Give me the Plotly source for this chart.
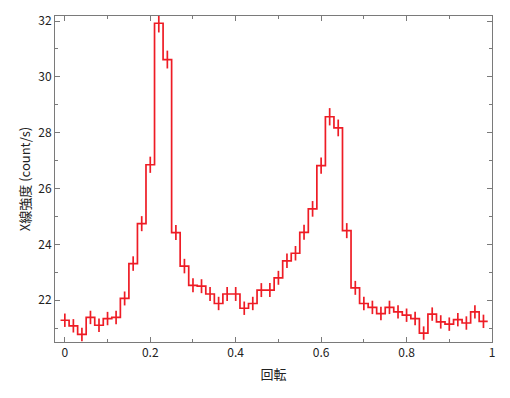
import plotly.graph_objects as go

phase = [round(0.02 * i, 2) for i in range(50)]
rate = [21.28, 21.08, 20.77, 21.38, 21.10, 21.34, 21.38, 22.06, 23.31, 24.74,
        26.85, 31.92, 30.62, 24.42, 23.22, 22.53, 22.50, 22.22, 21.88, 22.22,
        22.22, 21.71, 21.88, 22.36, 22.36, 22.80, 23.41, 23.68, 24.43, 25.27,
        26.82, 28.57, 28.17, 24.49, 22.44, 21.88, 21.74, 21.52, 21.74, 21.58,
        21.46, 21.34, 20.82, 21.50, 21.22, 21.14, 21.30, 21.18, 21.58, 21.24]
err = [0.24, 0.24, 0.24, 0.24, 0.24, 0.24, 0.24, 0.25, 0.26, 0.27,
       0.29, 0.33, 0.32, 0.27, 0.26, 0.25, 0.25, 0.25, 0.24, 0.25,
       0.25, 0.24, 0.24, 0.25, 0.25, 0.25, 0.26, 0.26, 0.27, 0.28,
       0.29, 0.31, 0.30, 0.27, 0.25, 0.24, 0.24, 0.24, 0.24, 0.24,
       0.24, 0.24, 0.24, 0.24, 0.24, 0.24, 0.24, 0.24, 0.24, 0.24]
half_bin = 0.01

xticks = [0, 0.2, 0.4, 0.6, 0.8, 1]
xticklabels = ["0", "0.2", "0.4", "0.6", "0.8", "1"]
yticks = [22, 24, 26, 28, 30, 32]

RED = "#ee1c25"
GREY = "#7a7a7a"
FONT = "Noto Sans CJK JP"

edges = [p - half_bin for p in phase] + [phase[-1] + half_bin]
levels = rate + [rate[-1]]

fig = go.Figure()
fig.add_trace(go.Scatter(x=edges, y=levels, mode="lines",
                         line=dict(shape="hv", color=RED, width=1.7),
                         hoverinfo="skip", showlegend=False))
fig.add_trace(go.Scatter(x=phase, y=rate, mode="markers",
                         marker=dict(size=0.1, color=RED, opacity=0),
                         error_y=dict(type="data", array=err, visible=True,
                                      width=0, thickness=1.7, color=RED),
                         showlegend=False))

axis_common = dict(showline=True, linecolor=GREY, linewidth=1, mirror="ticks",
                   ticks="inside", ticklen=5, tickcolor=GREY, tickwidth=1,
                   showgrid=False, zeroline=False, automargin=False,
                   tickfont=dict(family=FONT, size=12, color="#222"))

fig.update_xaxes(range=[-0.023, 1.0], tickvals=xticks, ticktext=xticklabels,
                 minor=dict(ticks="inside", ticklen=3, tickcolor=GREY, dtick=0.1, tick0=0),
                 title=dict(text="回転", font=dict(family=FONT, size=13, color="#222"), standoff=10),
                 **axis_common)
fig.update_yaxes(range=[20.5, 32.18], tickvals=yticks,
                 minor=dict(ticks="inside", ticklen=3, tickcolor=GREY, dtick=1, tick0=0),
                 title=dict(text="X線強度 (count/s)", font=dict(family=FONT, size=13, color="#222"), standoff=4),
                 **axis_common)

fig.update_layout(width=502, height=390, plot_bgcolor="white", paper_bgcolor="white",
                  margin=dict(l=47, r=17.5, t=8, b=56), showlegend=False)

fig.write_html("out.html")
